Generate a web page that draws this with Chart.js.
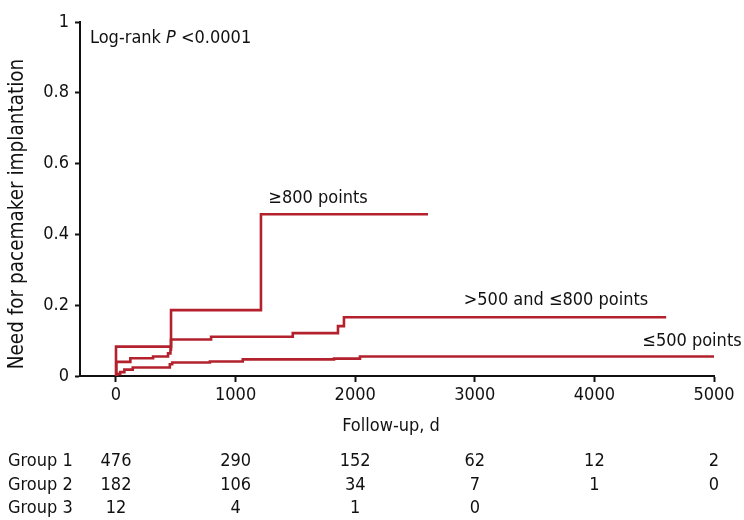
<!DOCTYPE html>
<html>
<head>
<meta charset="utf-8">
<script src="https://cdn.jsdelivr.net/npm/chart.js@4/dist/chart.umd.min.js"></script>
<style>
  html, body { margin: 0; padding: 0; background: #fff; }
  #wrap { width: 744px; height: 520px; }
</style>
</head>
<body>
<div id="wrap"><canvas id="km" width="744" height="520"></canvas></div>
<script>
// Kaplan-Meier step points: [follow-up day, cumulative need for pacemaker]
const group3Times = [0, 0, 460, 1212, 2609];
const group3Values = [0, 0.083, 0.186, 0.457, 0.457];

const group2Times = [0, 3, 120, 310, 435, 455, 460, 795, 1478, 1856, 1906, 4600];
const group2Values = [0, 0.040, 0.050, 0.055, 0.064, 0.075, 0.103, 0.111, 0.121, 0.141, 0.166, 0.166];

const group1Times = [0, 10, 35, 70, 140, 450, 470, 785, 1060, 1823, 2040, 5000];
const group1Values = [0, 0.006, 0.011, 0.018, 0.024, 0.033, 0.038, 0.041, 0.047, 0.049, 0.055, 0.055];

const xTicks = [0, 1000, 2000, 3000, 4000, 5000];
const yTicks = [0, 0.2, 0.4, 0.6, 0.8, 1];
const yTickLabels = ['0', '0.2', '0.4', '0.6', '0.8', '1'];

// Numbers at risk under the x axis
const riskGroups = ['Group 1', 'Group 2', 'Group 3'];
const riskGroup1 = [476, 290, 152, 62, 12, 2];
const riskGroup2 = [182, 106, 34, 7, 1, 0];
const riskGroup3 = [12, 4, 1, 0];

// Curve labels: [text, day, value]
const curveLabels = [
  ['\u2265800 points', 1689, 0.502],
  ['>500 and \u2264800 points', 3679, 0.214],
  ['\u2264500 points', 4816, 0.098]
];

const FONT = '"DejaVu Sans Condensed", "DejaVu Sans", sans-serif';
const FS = 18;
const RED = '#B3212D';

const toPts = (ts, vs) => ts.map((t, i) => ({ x: t, y: vs[i] }));

const overlay = {
  id: 'overlay',
  afterDraw(chart) {
    const { ctx, scales } = chart;
    const xs = scales.x, ys = scales.y;
    ctx.save();
    ctx.fillStyle = '#111';
    ctx.textBaseline = 'middle';
    ctx.font = FS + 'px ' + FONT;

    // Log-rank annotation with italic P
    let x = 90, y = 38;
    ctx.textAlign = 'left';
    const a = 'Log-rank ';
    ctx.fillText(a, x, y);
    x += ctx.measureText(a).width;
    ctx.font = 'italic ' + FS + 'px ' + FONT;
    ctx.fillText('P', x, y);
    x += ctx.measureText('P ').width;
    ctx.font = FS + 'px ' + FONT;
    ctx.fillText('<0.0001', x, y);

    // curve labels
    ctx.textAlign = 'center';
    curveLabels.forEach(([txt, t, v]) => {
      ctx.fillText(txt, xs.getPixelForValue(t), ys.getPixelForValue(v));
    });

    // y axis title
    ctx.save();
    ctx.font = '20.5px ' + FONT;
    ctx.translate(18, 214);
    ctx.rotate(-Math.PI / 2);
    ctx.fillText('Need for pacemaker implantation', 0, 0);
    ctx.restore();

    // x axis title
    ctx.fillText('Follow-up, d', 391, 426);

    // numbers at risk
    const rows = [riskGroup1, riskGroup2, riskGroup3];
    const rowY = [461, 485, 508];
    rows.forEach((vals, r) => {
      ctx.textAlign = 'left';
      ctx.fillText(riskGroups[r], 8, rowY[r]);
      ctx.textAlign = 'center';
      vals.forEach((n, i) => {
        ctx.fillText(String(n), xs.getPixelForValue(xTicks[i]), rowY[r]);
      });
    });
    ctx.restore();
  }
};

const lineDs = (label, pts) => ({
  label,
  data: pts,
  stepped: 'before',
  borderColor: RED,
  borderWidth: 2.6,
  pointRadius: 0,
  fill: false,
  tension: 0
});

new Chart(document.getElementById('km'), {
  type: 'line',
  data: {
    datasets: [
      lineDs('\u2265800 points', toPts(group3Times, group3Values)),
      lineDs('>500 and \u2264800 points', toPts(group2Times, group2Values)),
      lineDs('\u2264500 points', toPts(group1Times, group1Values))
    ]
  },
  options: {
    responsive: false,
    animation: false,
    devicePixelRatio: 1,
    layout: { padding: { left: 0, right: 30, top: 22, bottom: 114 } },
    plugins: { legend: { display: false }, tooltip: { enabled: false } },
    scales: {
      x: {
        type: 'linear',
        min: -301,
        max: 5000,
        afterBuildTicks: s => { s.ticks = xTicks.map(v => ({ value: v })); },
        afterFit: s => { s.height = 30; },
        grid: { display: true, drawOnChartArea: false, drawTicks: true, tickLength: 6, tickColor: '#111', tickWidth: 2 },
        border: { display: true, color: '#111', width: 2 },
        ticks: {
          color: '#111',
          font: { family: FONT, size: FS },
          padding: 3,
          maxRotation: 0,
          autoSkip: false,
          callback: (v) => String(v)
        }
      },
      y: {
        type: 'linear',
        min: 0,
        max: 1,
        afterBuildTicks: s => { s.ticks = yTicks.map(v => ({ value: v })); },
        afterFit: s => { s.width = 80; },
        grid: { display: true, drawOnChartArea: false, drawTicks: true, tickLength: 5, tickColor: '#111', tickWidth: 2 },
        border: { display: true, color: '#111', width: 2 },
        ticks: {
          color: '#111',
          font: { family: FONT, size: FS },
          padding: 6,
          callback: (v) => yTickLabels[yTicks.indexOf(v)] ?? ''
        }
      }
    }
  },
  plugins: [overlay]
});
</script>
</body>
</html>
